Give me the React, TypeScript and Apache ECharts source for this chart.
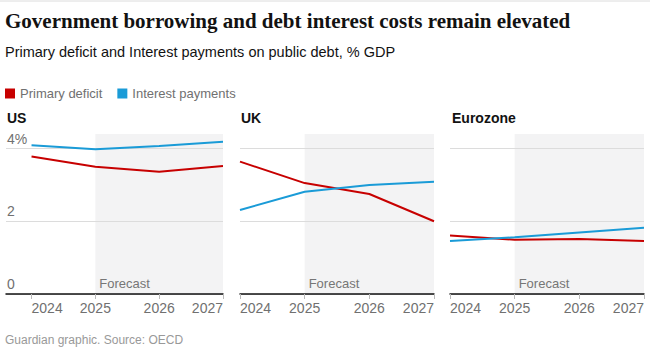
import React, { useEffect, useRef } from "react";
import * as echarts from "echarts";

const years = [2024, 2025, 2026, 2027];
const yTicks = [0, 2, 4];
const panelNames = ["US", "UK", "Eurozone"];
const usDeficit = [3.78, 3.5, 3.36, 3.52];
const usInterest = [4.09, 3.98, 4.07, 4.19];
const ukDeficit = [3.64, 3.05, 2.75, 2.0];
const ukInterest = [2.31, 2.81, 3.0, 3.09];
const ezDeficit = [1.61, 1.49, 1.51, 1.46];
const ezInterest = [1.46, 1.56, 1.69, 1.82];
const forecastStart = 2025;
const forecastEnd = 2027;

const RED = "#c70000";
const BLUE = "#1a9bd7";
const SANS = "Liberation Sans";

export default function App() {
  const ref = useRef<HTMLDivElement>(null);
  useEffect(() => {
    if (!ref.current) return;
    const chart = echarts.init(ref.current, null, { renderer: "svg" });
    const grids = [
      { left: 6, width: 217, xmin: 2023.6 },
      { left: 240, width: 194, xmin: 2024 },
      { left: 450, width: 194, xmin: 2024 },
    ];
    const deficits = [usDeficit, ukDeficit, ezDeficit];
    const interests = [usInterest, ukInterest, ezInterest];
    const series: any[] = [];
    grids.forEach((g, i) => {
      series.push({
        type: "line",
        name: "Primary deficit",
        xAxisIndex: i,
        yAxisIndex: i,
        data: years.map((y, k) => [y, deficits[i][k]]),
        symbol: "none",
        lineStyle: { color: RED, width: 2 },
        itemStyle: { color: RED },
        z: 3,
        markArea: {
          silent: true,
          z: 1,
          itemStyle: { color: "#f3f3f4" },
          label: {
            show: true,
            position: "insideBottomLeft",
            color: "#767676",
            fontSize: 13,
            fontFamily: SANS,
            distance: 4,
          },
          data: [[{ xAxis: forecastStart, name: "Forecast" }, { xAxis: forecastEnd }]],
        },
      });
      series.push({
        type: "line",
        name: "Interest payments",
        xAxisIndex: i,
        yAxisIndex: i,
        data: years.map((y, k) => [y, interests[i][k]]),
        symbol: "none",
        lineStyle: { color: BLUE, width: 2 },
        itemStyle: { color: BLUE },
        z: 3,
      });
    });

    const option: any = {
      animation: false,
      backgroundColor: "#ffffff",
      legend: {
        left: 5,
        top: 87,
        padding: 0,
        icon: "rect",
        itemWidth: 10,
        itemHeight: 10,
        itemGap: 15,
        textStyle: { color: "#707070", fontSize: 13, fontFamily: SANS },
        data: ["Primary deficit", "Interest payments"],
      },
      grid: grids.map((g) => ({ left: g.left, width: g.width, top: 134, height: 160 })),
      xAxis: grids.map((g, i) => ({
        type: "value",
        gridIndex: i,
        min: g.xmin,
        max: 2027,
        z: 4,
        axisLine: { show: true, lineStyle: { color: "#121212", width: 1.5 } },
        axisTick: { show: true, customValues: years, length: 5, lineStyle: { color: "#bbbbbb" } },
        axisLabel: {
          customValues: years,
          color: "#707070",
          fontSize: 14,
          fontFamily: SANS,
          margin: 7,
          alignMinLabel: "left",
          alignMaxLabel: "right",
          formatter: (v: number) => String(v),
        },
        splitLine: { show: false },
      })),
      yAxis: grids.map((g, i) => ({
        type: "value",
        gridIndex: i,
        min: 0,
        max: 4.4,
        z: 2,
        axisLine: { show: false },
        axisTick: { show: false, customValues: yTicks },
        splitLine: { show: true, lineStyle: { color: "#dcdcdc", width: 1 } },
        axisLabel: {
          show: i === 0,
          customValues: yTicks,
          inside: true,
          margin: 1,
          align: "left",
          verticalAlign: "bottom",
          padding: [0, 0, 3, 0],
          color: "#707070",
          fontSize: 14,
          fontFamily: SANS,
          formatter: (v: number) => (v === 4 ? "4%" : String(v)),
        },
      })),
      series,
      graphic: [
        { type: "line", shape: { x1: 0, y1: 1, x2: 650, y2: 1 }, style: { stroke: "#dcdcdc", lineWidth: 1 } },
        {
          type: "text",
          x: 5,
          y: 21,
          style: {
            text: "Government borrowing and debt interest costs remain elevated",
            font: "bold 21px 'Liberation Serif'",
            fill: "#121212",
            textVerticalAlign: "middle",
          },
        },
        {
          type: "text",
          x: 5,
          y: 52,
          style: {
            text: "Primary deficit and Interest payments on public debt, % GDP",
            font: "14.5px 'Liberation Sans'",
            fill: "#121212",
            textVerticalAlign: "middle",
          },
        },
        ...panelNames.map((n, i) => ({
          type: "text",
          x: [7, 241, 452][i],
          y: 118,
          style: {
            text: n,
            font: "bold 14px 'Liberation Sans'",
            fill: "#121212",
            textVerticalAlign: "middle",
          },
        })),
        {
          type: "text",
          x: 5,
          y: 340,
          style: {
            text: "Guardian graphic. Source: OECD",
            font: "12px 'Liberation Sans'",
            fill: "#999999",
            textVerticalAlign: "middle",
          },
        },
      ],
    };
    chart.setOption(option);
    return () => chart.dispose();
  }, []);
  return (
    <div
      ref={ref}
      style={{ position: "fixed", left: 0, top: 0, width: 670, height: 354, background: "#fff" }}
    />
  );
}
